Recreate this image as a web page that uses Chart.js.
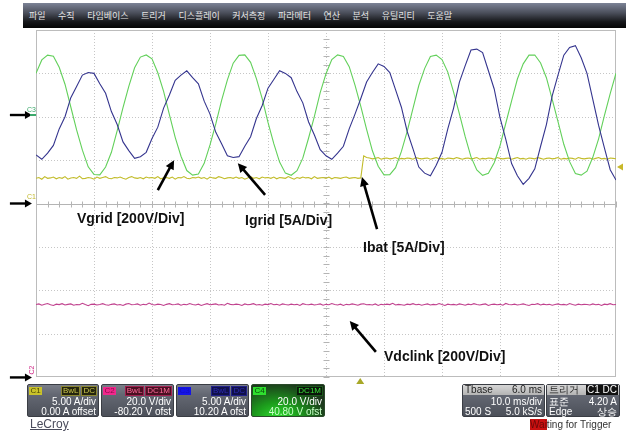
<!DOCTYPE html>
<html>
<head>
<meta charset="utf-8">
<script src="https://cdn.jsdelivr.net/npm/chart.js@4.4.1/dist/chart.umd.min.js"></script>
<style>
  body { margin: 0; background: #fff; }
  #wrap { position: relative; width: 626px; height: 434px; overflow: hidden; font-family: Arial, "Liberation Sans", sans-serif; }
  #scope { position: absolute; left: 0; top: 0; }
  .menu { position: absolute; left: 23px; top: 3px; width: 603px; height: 25px;
    background: linear-gradient(#7c8396 0%, #4a4e5a 40%, #16171a 75%, #050505 100%);
    display: flex; align-items: center; gap: 12.5px; padding-left: 6px; box-sizing: border-box;
    font: 9px "Noto Sans CJK KR", sans-serif; color: #e4e4e4; }
  .note { position: absolute; font: bold 14px Arial, "Liberation Sans", sans-serif; line-height: 16px; color: #111; white-space: nowrap; }
  .ro { position: absolute; top: 384px; height: 33px; box-sizing: border-box; border: 1px solid #3a3d44; border-radius: 2px;
    background: linear-gradient(#7a7e88 0%, #646873 30%, #4c5059 100%); color: #fff; font-size: 10px; line-height: 10px; }
  .ro .chip { position: absolute; left: 1px; top: 2px; width: 13px; height: 8px; font-size: 8px; line-height: 8px; text-align: center; }
  .ro .tags { position: absolute; right: 1px; top: 1px; display: flex; gap: 1px; }
  .ro .tag { font-size: 8px; line-height: 8px; padding: 0 1px; border: 1px solid; }
  .ro .r2 { position: absolute; right: 2px; top: 12px; }
  .ro .r3 { position: absolute; right: 2px; top: 22px; }
  .ro .l2 { position: absolute; left: 2px; top: 12px; }
  .ro .l3 { position: absolute; left: 2px; top: 22px; }
  .ro .head { position: absolute; left: 0; right: 0; top: 0; height: 10px; background: linear-gradient(#d6d6d6, #b4b4b4); color: #222; }
  .ro .head .l { position: absolute; left: 2px; top: 0; }
  .ro .head .r { position: absolute; right: 2px; top: 0; }
  .c4 { background: radial-gradient(ellipse at 35% 110%, #2fe02f 0%, #1c9a1c 35%, #1d3a1d 75%, #1b261b 100%); border-color: #2a4a2a; }
  .lecroy { position: absolute; left: 30px; top: 417px; font-size: 12px; color: #4a4c5c; text-decoration: underline; }
  .wait { position: absolute; left: 530px; top: 419px; font-size: 10px; color: #333; }
  .wait span { background: #c81010; color: #6a0808; }
</style>
</head>
<body>
<div id="wrap">
  <canvas id="scope" width="626" height="434"></canvas>

  <div class="menu">
    <span>파일</span><span>수직</span><span>타임베이스</span><span>트리거</span><span>디스플레이</span><span>커서측정</span><span>파라메터</span><span>연산</span><span>분석</span><span>유틸리티</span><span>도움말</span>
  </div>

  <div class="note" style="left:77px;top:210px">Vgrid [200V/Div]</div>
  <div class="note" style="left:245px;top:212px">Igrid [5A/Div]</div>
  <div class="note" style="left:363px;top:239px">Ibat [5A/Div]</div>
  <div class="note" style="left:384px;top:348px">Vdclink [200V/Div]</div>

  <div class="ro" style="left:27px;width:72px">
    <div class="chip" style="background:#c9c22a;color:#4a4608">C1</div>
    <div class="tags"><span class="tag" style="background:#24240e;color:#c8c24a;border-color:#8a8630">BwL</span><span class="tag" style="background:#24240e;color:#c8c24a;border-color:#8a8630">DC</span></div>
    <div class="r2">5.00 A/div</div>
    <div class="r3">0.00 A offset</div>
  </div>
  <div class="ro" style="left:101px;width:73px">
    <div class="chip" style="background:#f0288c;color:#8a0a4a">C2</div>
    <div class="tags"><span class="tag" style="background:#4a1022;color:#ff6a9a;border-color:#a02050">BwL</span><span class="tag" style="background:#4a1022;color:#ff6a9a;border-color:#a02050">DC1M</span></div>
    <div class="r2">20.0 V/div</div>
    <div class="r3">-80.20 V ofst</div>
  </div>
  <div class="ro" style="left:176px;width:73px">
    <div class="chip" style="background:#1414e6;color:#1010c0">C3</div>
    <div class="tags"><span class="tag" style="background:#10104a;color:#2a2ab0;border-color:#20208a">BwL</span><span class="tag" style="background:#10104a;color:#2a2ab0;border-color:#20208a">DC</span></div>
    <div class="r2">5.00 A/div</div>
    <div class="r3">10.20 A ofst</div>
  </div>
  <div class="ro c4" style="left:251px;width:74px">
    <div class="chip" style="background:#2ee02e;color:#0a4a0a">C4</div>
    <div class="tags"><span class="tag" style="background:#0a160a;color:#3ae03a;border-color:#1a5a1a">DC1M</span></div>
    <div class="r2">20.0 V/div</div>
    <div class="r3" style="color:#c8ffc8">40.80 V ofst</div>
  </div>

  <div class="ro" style="left:462px;width:83px">
    <div class="head"><span class="l">Tbase</span><span class="r">6.0 ms</span></div>
    <div class="r2">10.0 ms/div</div>
    <div class="l3">500 S</div>
    <div class="r3">5.0 kS/s</div>
  </div>
  <div class="ro" style="left:546px;width:74px">
    <div class="head"><span class="l">트리거</span><span class="r" style="background:#111;color:#fff;padding:0 1px;right:1px">C1 DC</span></div>
    <div class="l2">표준</div>
    <div class="r2">4.20 A</div>
    <div class="l3">Edge</div>
    <div class="r3">상승</div>
  </div>

  <div class="lecroy">LeCroy</div>
  <div class="wait"><span>Wai</span>ting for Trigger</div>
</div>

<script>
// vertical channel settings, as on the readout panel (C1..C4)
const chNames = ['C1', 'C2', 'C3', 'C4'];
const chVoltsPerDiv = [5, 20, 5, 20];
const chOffset = [0, -80.2, 10.2, 40.8];
const chColors = ['#c2bc2a', '#c0428e', '#34348e', '#62d05a'];

const DIVS_X = 10, DIVS_Y = 8;
const MS_PER_DIV = 10;
const TRIG_LEVEL_A = 4.2;
const TRIG_TIME_MS = 55.9;

// C4 / C3 sampled every 1 ms
const coarseMs = Array.from({length: 101}, (_, i) => i);
// C1 / C2 sampled every 0.5 ms
const fineMs = Array.from({length: 201}, (_, i) => i * 0.5);

// Vgrid (C4, V)
const vgrid = [
  19.2, 25.4, 27.6, 27.1, 22.0, 14.2, 3.7, -6.9, -16.2, -23.9,
  -27.4, -27.6, -24.0, -17.2, -7.2, 3.4, 13.2, 21.8, 26.7, 27.7,
  25.9, 19.5, 10.9, 0.2, -10.3, -19.0, -25.6, -27.7, -27.2, -22.3,
  -13.8, -4.1, 6.8, 16.2, 23.9, 27.5, 27.7, 24.3, 16.8, 7.6,
  -3.4, -13.2, -21.7, -26.8, -27.8, -25.7, -19.9, -10.6, -0.6, 10.3,
  19.0, 25.6, 27.7, 27.0, 22.3, 13.8, 4.0, -6.6, -16.5, -23.6,
  -27.6, -27.5, -24.3, -16.8, -7.5, 3.1, 13.6, 21.4, 27.0, 27.6,
  25.6, 19.8, 10.6, 0.5, -10.0, -19.3, -25.3, -27.8, -26.9, -22.0,
  -14.2, -3.8, 6.5, 16.6, 23.6, 27.6, 27.7, 24.0, 17.2, 7.2,
  -3.0, -13.5, -21.5, -27.0, -27.7, -25.9, -19.5, -11.0, -0.3, 9.9,
  19.3
];

// Igrid (C3, A)
const igrid = [
  -4.6, -5.1, -4.4, -3.5, -1.6, -0.2, 2.0, 3.3, 4.6, 4.9,
  4.8, 3.6, 2.5, 0.4, -1.1, -3.1, -4.1, -5.0, -4.8, -4.3,
  -2.7, -1.4, 0.8, 2.3, 4.0, 4.6, 5.1, 4.3, 3.6, 1.6,
  0.1, -2.0, -3.3, -4.7, -4.9, -4.8, -3.6, -2.5, -0.4, 1.1,
  3.1, 4.1, 5.1, 4.8, 4.3, 2.7, 1.4, -0.8, -2.3, -4.0,
  -4.7, -5.1, -4.4, -3.6, -1.6, 0.1, 1.9, 3.8, 4.9, 5.9,
  5.6, 4.9, 2.9, 0.9, -1.9, -3.9, -6.0, -6.7, -7.0, -5.8,
  -4.3, -1.6, 0.8, 3.8, 5.7, 7.5, 7.6, 7.2, 5.1, 3.0,
  -0.3, -2.8, -5.6, -7.0, -8.0, -7.3, -6.2, -3.6, -1.1, 2.2,
  4.6, 6.9, 7.8, 8.0, 6.6, 4.8, 1.8, -1.2, -3.8, -6.3,
  -7.5
];

// Ibat (C1, A)
const ibat = [
  2.9, 3.0, 2.8, 3.1, 2.9, 2.95, 3.05, 2.85, 3.0, 2.9,
  3.1, 2.8, 2.95, 3.0, 2.9, 3.15, 2.85, 2.9, 3.0, 2.95,
  2.8, 3.05, 2.9, 3.0, 3.1, 2.9, 2.85, 3.0, 2.95, 3.05,
  2.9, 2.8, 3.0, 3.1, 2.95, 2.9, 3.0, 2.85, 3.05, 2.95,
  3.0, 2.9, 3.1, 2.85, 2.95, 3.0, 2.9, 3.05, 2.8, 3.0,
  2.95, 3.1, 2.9, 2.85, 3.0, 2.95, 3.05, 2.9, 3.0, 2.8,
  3.05, 2.95, 2.9, 3.1, 3.0, 2.85, 2.95, 3.0, 2.9, 3.05,
  2.9, 3.0, 2.8, 2.95, 3.1, 2.9, 3.0, 2.85, 3.05, 2.95,
  3.0, 2.9, 3.05, 2.85, 3.0, 2.95, 2.9, 3.1, 2.95, 2.8,
  3.0, 2.9, 3.05, 2.95, 3.0, 2.85, 3.1, 2.9, 2.95, 3.0,
  2.9, 3.05, 2.85, 3.0, 2.95, 2.9, 3.0, 3.05, 2.9, 2.95,
  3.0, 2.9, 2.95,
  5.5, 5.3, 5.25, 5.15, 5.2, 5.3, 5.1, 5.2, 5.25, 5.15,
  5.2, 5.3, 5.1, 5.2, 5.15, 5.25, 5.2, 5.1, 5.3, 5.2,
  5.15, 5.2, 5.25, 5.1, 5.2, 5.3, 5.15, 5.2, 5.1, 5.25,
  5.2, 5.15, 5.3, 5.2, 5.1, 5.2, 5.25, 5.15, 5.2, 5.3,
  5.1, 5.2, 5.15, 5.25, 5.2, 5.1, 5.3, 5.2, 5.15, 5.2,
  5.25, 5.1, 5.2, 5.3, 5.15, 5.2, 5.1, 5.25, 5.2, 5.15,
  5.3, 5.2, 5.1, 5.2, 5.25, 5.15, 5.2, 5.3, 5.1, 5.2,
  5.15, 5.25, 5.2, 5.1, 5.3, 5.2, 5.15, 5.2, 5.25, 5.1,
  5.2, 5.3, 5.15, 5.2, 5.1, 5.25, 5.2, 5.15
];

// Vdclink (C2, V)
const vdclink = [
  33.6, 33.9, 33.3, 33.7, 34.1, 33.5, 33.2, 33.8, 33.6, 34.0,
  33.4, 33.7, 33.9, 33.3, 33.6, 33.5, 34.2, 33.6, 33.1, 33.7,
  33.8, 33.4, 33.6, 34.0, 33.5, 33.3, 33.7, 33.9, 33.4, 33.6,
  33.2, 33.8, 34.1, 33.5, 33.6, 33.9, 33.3, 33.7, 33.5, 34.3,
  33.6, 33.4, 33.8, 33.6, 33.2, 33.7, 34.0, 33.5, 33.6, 33.9,
  33.3, 33.7, 33.5, 34.1, 33.6, 33.4, 33.8, 33.2, 33.6, 34.0,
  33.5, 33.7, 33.9, 33.4, 33.6, 33.3, 34.2, 33.7, 33.5, 33.8,
  33.6, 33.2, 33.9, 33.5, 33.7, 34.0, 33.4, 33.6, 33.3, 33.8,
  33.6, 34.1, 33.5, 33.7, 33.3, 33.9, 33.6, 33.4, 33.8, 33.5,
  33.7, 33.2, 34.0, 33.6, 33.5, 33.8, 33.4, 33.6, 33.9, 33.3,
  33.7, 33.5, 34.1, 33.6, 33.4, 33.8, 33.2, 33.7, 33.5, 33.9,
  33.6, 33.3, 33.8, 34.0, 33.5, 33.6, 33.4, 33.9, 33.2, 33.7,
  33.5, 33.8, 33.6, 34.2, 33.4, 33.7, 33.5, 33.3, 33.8, 33.6,
  34.0, 33.5, 33.7, 33.3, 33.6, 33.9, 33.4, 33.7, 33.5, 34.1,
  33.6, 33.2, 33.8, 33.5, 33.7, 33.4, 33.9, 33.6, 33.3, 33.8,
  33.5, 34.0, 33.6, 33.4, 33.7, 33.9, 33.2, 33.6, 33.8, 33.5,
  33.7, 33.3, 34.1, 33.6, 33.5, 33.8, 33.4, 33.6, 33.9, 33.5,
  33.2, 33.7, 33.6, 34.0, 33.4, 33.8, 33.5, 33.7, 33.3, 33.6,
  33.9, 33.5, 33.7, 33.4, 34.1, 33.6, 33.3, 33.8, 33.5, 33.7,
  33.6, 33.4, 33.9, 33.5, 33.7, 33.2, 33.8, 33.6, 34.0, 33.5,
  33.6
];

// annotation arrows, in (ms, div) on screen
const noteArrows = [
  {from: [21.0, 0.31], to: [23.8, 1.0]},
  {from: [39.5, 0.2], to: [34.8, 0.93]},
  {from: [58.8, -0.59], to: [56.2, 0.61]},
  {from: [58.6, -3.42], to: [54.1, -2.71]}
];

const pts = (times, vals) => vals.map((v, i) => ({x: times[i], y: v}));
const chAxis = i => ({
  type: 'linear', axis: 'y', display: false,
  min: -chOffset[i] - chVoltsPerDiv[i] * DIVS_Y / 2,
  max: -chOffset[i] + chVoltsPerDiv[i] * DIVS_Y / 2
});

function arrow(ctx, x0, y0, x1, y1, head, half, width) {
  const a = Math.atan2(y1 - y0, x1 - x0), c = Math.cos(a), s = Math.sin(a);
  ctx.lineWidth = width;
  ctx.beginPath();
  ctx.moveTo(x0, y0);
  ctx.lineTo(x1 - c * head * 0.7, y1 - s * head * 0.7);
  ctx.stroke();
  ctx.beginPath();
  ctx.moveTo(x1, y1);
  ctx.lineTo(x1 - head * c + half * s, y1 - head * s - half * c);
  ctx.lineTo(x1 - head * c - half * s, y1 - head * s + half * c);
  ctx.closePath();
  ctx.fill();
}

const scopeGrid = {
  id: 'scopeGrid',
  beforeDatasetsDraw(chart) {
    const {ctx, chartArea: a, scales: {x, div}} = chart;
    ctx.save();
    ctx.strokeStyle = '#c6c6c6';
    ctx.lineWidth = 1;
    ctx.setLineDash([1, 2]);
    for (let i = 1; i < DIVS_X; i++) {
      const px = Math.round(x.getPixelForValue(i * MS_PER_DIV)) + 0.5;
      ctx.beginPath(); ctx.moveTo(px, a.top); ctx.lineTo(px, a.bottom); ctx.stroke();
    }
    for (let d = -DIVS_Y / 2 + 1; d < DIVS_Y / 2; d++) {
      const py = Math.round(div.getPixelForValue(d)) + 0.5;
      ctx.beginPath(); ctx.moveTo(a.left, py); ctx.lineTo(a.right, py); ctx.stroke();
    }
    ctx.setLineDash([]);
    // minor ticks on the centre cross
    ctx.strokeStyle = '#b4b4b4';
    const cy = Math.round(div.getPixelForValue(0)) + 0.5;
    const cx = Math.round(x.getPixelForValue(DIVS_X * MS_PER_DIV / 2)) + 0.5;
    for (let t = 0; t <= DIVS_X * MS_PER_DIV; t += MS_PER_DIV / 5) {
      const px = Math.round(x.getPixelForValue(t)) + 0.5;
      ctx.beginPath(); ctx.moveTo(px, cy - 3); ctx.lineTo(px, cy + 3); ctx.stroke();
    }
    for (let d = -DIVS_Y / 2; d <= DIVS_Y / 2; d += 0.2) {
      const py = Math.round(div.getPixelForValue(d)) + 0.5;
      ctx.beginPath(); ctx.moveTo(cx - 3, py); ctx.lineTo(cx + 3, py); ctx.stroke();
    }
    ctx.beginPath(); ctx.moveTo(a.left, cy); ctx.lineTo(a.right, cy); ctx.stroke();
    ctx.strokeStyle = '#bcbcbc';
    ctx.strokeRect(a.left + 0.5, a.top + 0.5, a.width - 1, a.height - 1);
    ctx.restore();
  }
};

const scopeMarks = {
  id: 'scopeMarks',
  afterDraw(chart) {
    const {ctx, chartArea: a, scales} = chart;
    const x = scales.x, div = scales.div;
    ctx.save();
    ctx.fillStyle = ctx.strokeStyle = '#000';
    noteArrows.forEach(n => {
      arrow(ctx, x.getPixelForValue(n.from[0]), div.getPixelForValue(n.from[1]),
        x.getPixelForValue(n.to[0]), div.getPixelForValue(n.to[1]), 9, 4.5, 2.6);
    });
    // ground markers at the left edge: C3/C4 share a level, then C1, C2
    [2, 0, 1].forEach(i => {
      const py = div.getPixelForValue(chOffset[i] / chVoltsPerDiv[i]);
      ctx.fillStyle = ctx.strokeStyle = '#000';
      arrow(ctx, x.getPixelForValue(-4.5), py, x.getPixelForValue(-0.7), py, 7, 4, 2.4);
    });
    ctx.font = '7px Arial';
    let py = div.getPixelForValue(chOffset[2] / chVoltsPerDiv[2]);
    ctx.fillStyle = '#3aa86a';
    ctx.fillRect(a.left - 6, py - 1, 6, 2);
    ctx.fillText('C3', a.left - 9, py - 3);
    py = div.getPixelForValue(chOffset[0] / chVoltsPerDiv[0]);
    ctx.fillStyle = '#c2b82a';
    ctx.fillText('C1', a.left - 9, py - 5);
    py = div.getPixelForValue(chOffset[1] / chVoltsPerDiv[1]);
    ctx.fillStyle = '#d0308a';
    ctx.translate(a.left - 2, py - 3);
    ctx.rotate(-Math.PI / 2);
    ctx.fillText('C2', 0, 0);
    ctx.setTransform(1, 0, 0, 1, 0, 0);
    // trigger level and trigger time markers
    const ty = scales.c1.getPixelForValue(TRIG_LEVEL_A);
    ctx.fillStyle = '#c8b82a';
    ctx.beginPath();
    ctx.moveTo(a.right + 1, ty); ctx.lineTo(a.right + 7, ty - 3.5); ctx.lineTo(a.right + 7, ty + 3.5);
    ctx.closePath(); ctx.fill();
    const tx = x.getPixelForValue(TRIG_TIME_MS);
    ctx.fillStyle = '#a8a828';
    ctx.beginPath();
    ctx.moveTo(tx, a.bottom + 1); ctx.lineTo(tx - 4, a.bottom + 7); ctx.lineTo(tx + 4, a.bottom + 7);
    ctx.closePath(); ctx.fill();
    ctx.restore();
  }
};

const trace = (label, times, vals, ch, order) => ({
  label, data: pts(times, vals), yAxisID: 'c' + (ch + 1), order,
  borderColor: chColors[ch], borderWidth: 1.1, pointRadius: 0, tension: 0, fill: false
});

new Chart(document.getElementById('scope'), {
  type: 'line',
  data: {
    datasets: [
      trace('Igrid', coarseMs, igrid, 2, 0),
      trace('Vgrid', coarseMs, vgrid, 3, 1),
      trace('Ibat', fineMs, ibat, 0, 2),
      trace('Vdclink', fineMs, vdclink, 1, 3)
    ]
  },
  options: {
    responsive: false,
    animation: false,
    devicePixelRatio: 1,
    events: [],
    layout: {padding: {left: 36, right: 10, top: 30, bottom: 57}},
    plugins: {legend: {display: false}, tooltip: {enabled: false}},
    scales: {
      x: {type: 'linear', axis: 'x', display: false, min: 0, max: DIVS_X * MS_PER_DIV},
      div: {type: 'linear', axis: 'y', display: false, min: -DIVS_Y / 2, max: DIVS_Y / 2},
      c1: chAxis(0),
      c2: chAxis(1),
      c3: chAxis(2),
      c4: chAxis(3)
    }
  },
  plugins: [scopeGrid, scopeMarks]
});
</script>
</body>
</html>
